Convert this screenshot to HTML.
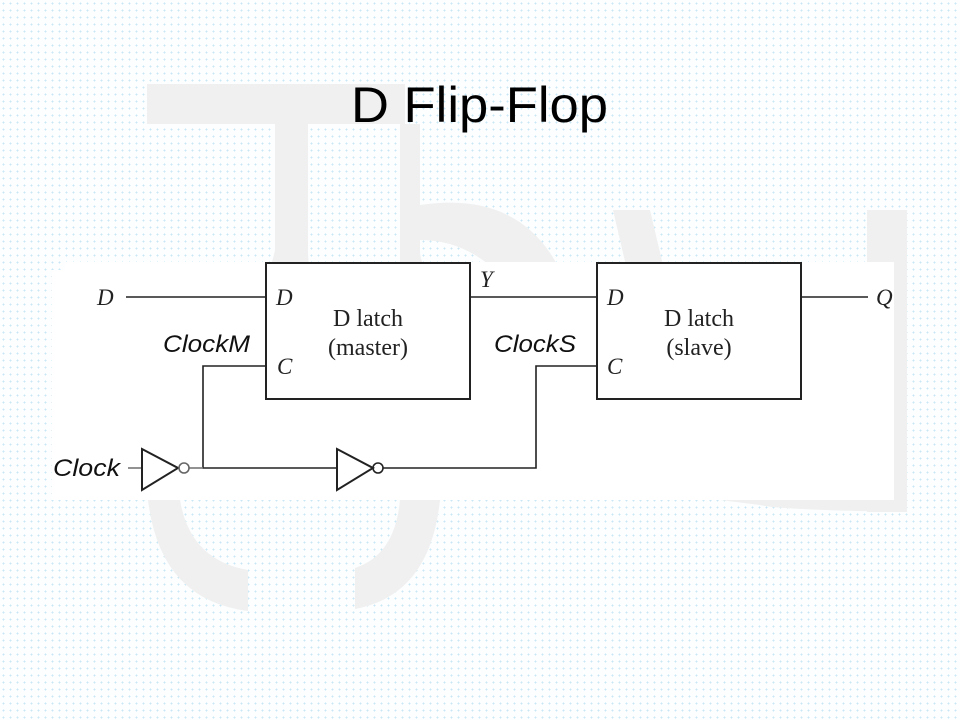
<!DOCTYPE html>
<html><head><meta charset="utf-8"><style>
html,body{margin:0;padding:0;}
body{width:960px;height:720px;overflow:hidden;background-color:#fcfeff;
background-image:radial-gradient(circle,#c9e7f4 0.8px,transparent 1px);background-size:7px 7px;}
</style></head><body>
<svg width="960" height="720" viewBox="0 0 960 720" style="position:absolute;left:0;top:0">
<g fill="#f0f0f0">
<rect x="147" y="84" width="258" height="40"/>
<path d="M275 124 H308 V250 Q308 290 330 312 L210 345 Q265 300 275 250 Z"/>
<path d="M400 124 H420 V250 Q420 272 440 272 L400 300 Z"/>
<path d="M420 205 Q520 190 560 270 L520 300 Q480 240 420 240 Z"/>
<rect x="867" y="210" width="40" height="302"/>
<path d="M613 210 H650 L690 380 L655 390 Z"/>
<path d="M148 500 H180 Q190 560 248 570 V611 Q160 600 148 500 Z"/>
<path d="M400 500 H440 Q430 595 355 609 V568 Q395 555 400 500 Z"/>
<path d="M720 500 L760 505 Q780 510 907 512 V485 L860 500 Z"/>
</g>
<path d="M52 500 V270 H65 V262 H894 V500 Z" fill="#ffffff"/>
<text x="351" y="122" font-family="Liberation Sans, sans-serif" font-size="50" textLength="257" lengthAdjust="spacingAndGlyphs" fill="#000">D Flip-Flop</text>
<g stroke="#222" stroke-width="1.6" fill="none">
<rect x="266" y="263" width="204" height="136" stroke-width="2"/>
<rect x="597" y="263" width="204" height="136" stroke-width="2"/>
<line x1="126" y1="297" x2="266" y2="297"/>
<line x1="470" y1="297" x2="597" y2="297"/>
<line x1="801" y1="297" x2="868" y2="297"/>
<polyline points="266,366 203,366 203,468 337,468"/>
<polyline points="383,468 536,468 536,366 597,366"/>
<line x1="128" y1="468" x2="141" y2="468" stroke="#777"/>
<line x1="189" y1="468" x2="203" y2="468" stroke="#777"/>
<path d="M142 449 L178 468 L142 490 Z" stroke-width="2"/>
<circle cx="184" cy="468" r="5" stroke="#666"/>
<path d="M337 449 L373 468 L337 490 Z" stroke-width="2"/>
<circle cx="378" cy="468" r="5"/>
</g>
<g font-family="Liberation Serif, serif" font-size="23" fill="#222">
<text x="97" y="305" font-style="italic">D</text>
<text x="276" y="305" font-style="italic">D</text>
<text x="277" y="374" font-style="italic">C</text>
<text x="607" y="305" font-style="italic">D</text>
<text x="607" y="374" font-style="italic">C</text>
<text x="480" y="287" font-style="italic">Y</text>
<text x="876" y="305" font-style="italic">Q</text>
<text x="368" y="326" text-anchor="middle" font-size="24">D latch</text>
<text x="368" y="355" text-anchor="middle" font-size="24">(master)</text>
<text x="699" y="326" text-anchor="middle" font-size="24">D latch</text>
<text x="699" y="355" text-anchor="middle" font-size="24">(slave)</text>
</g>
<g font-family="Liberation Sans, sans-serif" font-size="24" font-style="italic" fill="#111">
<text x="163" y="352" textLength="87" lengthAdjust="spacingAndGlyphs">ClockM</text>
<text x="494" y="352" textLength="82" lengthAdjust="spacingAndGlyphs">ClockS</text>
<text x="53" y="476" textLength="67" lengthAdjust="spacingAndGlyphs">Clock</text>
</g>
</svg>
</body></html>
